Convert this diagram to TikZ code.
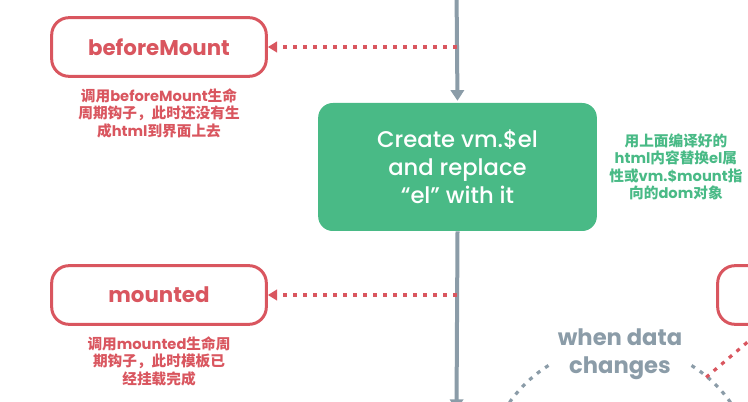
\documentclass[tikz,border=0pt]{standalone}
\usepackage{fontspec}
\setmainfont{Poppins}
\newfontfamily\popmed{Poppins Medium}
\newfontfamily\cjk{Noto Sans CJK SC}
\usetikzlibrary{shapes, arrows.meta, calc, positioning}
\definecolor{hookred}{RGB}{217,86,95}
\definecolor{stagegreen}{RGB}{73,186,134}
\definecolor{flowgray}{RGB}{139,156,168}
\newcommand{\lat}[1]{{\rmfamily\bfseries #1}}
\tikzstyle{hook} = [rectangle, draw=hookred, line width=2.25pt, rounded corners=13pt, minimum width=161pt, minimum height=44pt, text=hookred, font=\bfseries\fontsize{16}{19}\selectfont]
\tikzstyle{stage} = [rectangle, fill=stagegreen, rounded corners=11pt, minimum width=209pt, minimum height=96pt, text=white, align=center, font=\popmed\fontsize{17}{21}\selectfont]
\tikzstyle{note} = [align=center, inner sep=0pt, font=\cjk\bfseries\fontsize{11}{13}\selectfont]
\tikzstyle{flow} = [draw=flowgray, line width=3pt, -{Triangle[width=10pt, length=8pt]}]
\tikzstyle{hookline} = [draw=hookred, line width=2.4pt, dash pattern=on 3pt off 4.5pt, -{Triangle[width=8pt, length=7pt]}]
\tikzstyle{cycle} = [draw=flowgray, line width=2.4pt, dash pattern=on 3pt off 4.5pt]

\begin{document}
\begin{tikzpicture}[x=0.75pt, y=-0.75pt]
        \useasboundingbox (0,0) rectangle (748,402);
        \clip (0,0) rectangle (748,402);

        \node[stage] (el) at (457.5,167) {Create vm.\$el\\and replace\\“el” with it};
        \node[note, text=stagegreen, right=9pt of el] (elnote) {用上面编译好的\\\lat{html}内容替换\lat{el}属\\性或\lat{vm.\$mount}指\\向的\lat{dom}对象};

        \node[hook] (bm) at (159,47) {beforeMount};
        \node[note, text=hookred, below=8pt of bm] (bmnote) {调用\lat{beforeMount}生命\\周期钩子，此时还没有生\\成\lat{html}到界面上去};

        \node[hook] (mt) at (159,295) {mounted};
        \node[note, text=hookred, below=8pt of mt] (mtnote) {调用\lat{mounted}生命周\\期钩子，此时模板已\\经挂载完成};

        \node[hook] (bu) at (825,295) {beforeUpdate};

        \node[text=flowgray, align=center, font=\bfseries\fontsize{17}{21}\selectfont] (dc) at (620,354) {when data\\changes};

        % main flow
        \coordinate (top) at (456.5,-10);
        \coordinate (bottom) at (456.5,410);
        \path[flow, shorten >=1.5pt] (top) -- (el.north);
        \path[flow] (el.south) -- (bottom);

        % hooks
        \coordinate (bmjoin) at (456.5,47);
        \coordinate (mtjoin) at (456.5,295);
        \path[hookline] (bmjoin) -- (bm.east);
        \path[hookline] (mtjoin) -- (mt.east);

        % update cycle
        \coordinate (cc) at (620,480);
        \draw[cycle] ($(cc)+(-122:135)$) arc[start angle=-122, end angle=-190, radius=135];
        \draw[cycle] ($(cc)+(-58:135)$) arc[start angle=-58, end angle=0, radius=135];
        \coordinate (bujoin) at ($(cc)+(-50:134)$);
        \coordinate (butip) at (764,328);
        \path[hookline] (bujoin) -- (butip);
    \end{tikzpicture}
\end{document}
